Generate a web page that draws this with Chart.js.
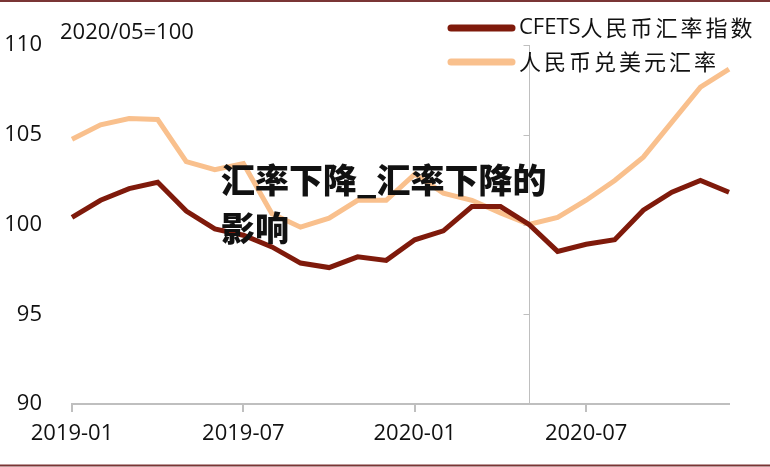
<!DOCTYPE html>
<html>
<head>
<meta charset="utf-8">
<script src="https://cdn.jsdelivr.net/npm/chart.js@4.4.0/dist/chart.umd.min.js"></script>
<style>
  html, body { margin: 0; padding: 0; background: #fff; }
  #wrap { width: 770px; height: 467px; position: relative; }
</style>
</head>
<body>
<div id="wrap"><canvas id="rate-chart"></canvas></div>
<script>
// Mesi
var months = ["2019-01","2019-02","2019-03","2019-04","2019-05","2019-06","2019-07","2019-08","2019-09","2019-10","2019-11","2019-12",
              "2020-01","2020-02","2020-03","2020-04","2020-05","2020-06","2020-07","2020-08","2020-09","2020-10","2020-11","2020-12"];

// Serie (2020/05=100)
var cfetsData = [100.4, 101.35, 102.0, 102.35, 100.75, 99.75, 99.4, 98.75, 97.85, 97.6, 98.2, 98.0,
                 99.15, 99.65, 101.0, 101.0, 100.0, 98.5, 98.9, 99.15, 100.8, 101.8, 102.45, 101.8];
var usdData   = [104.75, 105.55, 105.9, 105.85, 103.5, 103.05, 103.4, 100.6, 99.85, 100.35, 101.35, 101.35,
                 102.8, 101.75, 101.35, 100.65, 100.0, 100.4, 101.35, 102.45, 103.75, 105.7, 107.65, 108.65];

var seriesLabels = ["CFETS人民币汇率指数", "人民币兑美元汇率"];
var yTicks = [90, 95, 100, 105, 110];
var baseMonth = "2020-05";
var noteText = "2020/05=100";
var overlayLines = ["汇率下降_汇率下降的", "影响"];

var darkRed = '#7f1a0b';
var peach = '#f9c08d';
var axisGray = '#bfbfbf';
var latinFont = '"Open Sans", "Liberation Sans", sans-serif';
var cjkFont = '"Noto Sans CJK SC", sans-serif';

function $each(arr, fn){ for (var i = 0; i < arr.length; i++) { fn(arr[i], i); } }

// linea verticale al mese base + cornice + legenda + scritta
var extras = {
	id: 'extras',
	beforeDatasetsDraw: function(chart){
		var ctx = chart.ctx, xs = chart.scales.x, ys = chart.scales.y;
		var xb = Math.round(xs.getPixelForValue(months.indexOf(baseMonth))) + 0.5;
		ctx.save();
		ctx.strokeStyle = axisGray;
		ctx.lineWidth = 1;
		ctx.beginPath();
		ctx.moveTo(xb, ys.getPixelForValue(110));
		ctx.lineTo(xb, ys.getPixelForValue(90));
		$each(yTicks, function(v){
			var py = Math.round(ys.getPixelForValue(v)) + 0.5;
			ctx.moveTo(xb - 6, py);
			ctx.lineTo(xb, py);
		});
		ctx.stroke();
		ctx.restore();
	},
	afterDatasetsDraw: function(chart){
		var ctx = chart.ctx;
		ctx.save();
		ctx.fillStyle = '#111';
		ctx.font = '900 34px ' + cjkFont;
		ctx.textBaseline = 'middle';
		ctx.textAlign = 'left';
		ctx.fillText(overlayLines[0], 221, 180);
		ctx.fillText(overlayLines[1], 221, 228);
		ctx.restore();
	},
	afterDraw: function(chart){
		var ctx = chart.ctx;
		ctx.save();
		// cornice
		ctx.strokeStyle = '#7a3535';
		ctx.lineWidth = 2;
		ctx.beginPath();
		ctx.moveTo(0, 1); ctx.lineTo(770, 1);
		ctx.moveTo(0, 465.5); ctx.lineTo(770, 465.5);
		ctx.stroke();

		// nota
		ctx.fillStyle = '#111';
		ctx.font = '22px ' + latinFont;
		ctx.textBaseline = 'middle';
		ctx.fillText(noteText, 60, 33);

		// legenda
		var rowsY = [28, 62];
		chart.data.datasets.forEach(function(ds, i){
			var y = rowsY[i];
			ctx.strokeStyle = ds.borderColor;
			ctx.lineWidth = 7;
			ctx.lineCap = 'round';
			ctx.beginPath();
			ctx.moveTo(451, y); ctx.lineTo(512, y);
			ctx.stroke();
			var x = 519;
			var m = ds.label.match(/^[A-Za-z]*/)[0];
			if (m) {
				ctx.font = '22px ' + latinFont;
				ctx.fillText(m, x, y);
				x += ctx.measureText(m).width;
			}
			ctx.font = '22px ' + cjkFont;
			ds.label.slice(m.length).split('').forEach(function(c){
				ctx.fillText(c, x, y);
				x += 25;
			});
		});
		ctx.restore();
	}
};

var ctx = document.getElementById('rate-chart').getContext('2d');
var myChart = new Chart(ctx, {
	type: 'line',
	data: {
		labels: months,
		datasets: [{
			label: seriesLabels[0],
			data: cfetsData,
			borderColor: darkRed,
			backgroundColor: darkRed,
			borderWidth: 5,
			pointRadius: 0,
			tension: 0,
			fill: false
		},{
			label: seriesLabels[1],
			data: usdData,
			borderColor: peach,
			backgroundColor: peach,
			borderWidth: 5,
			pointRadius: 0,
			tension: 0,
			fill: false
		}]
	},
	options: {
		responsive: true,
		maintainAspectRatio: false,
		animation: false,
		layout: { padding: { top: 45, right: 41, left: 0, bottom: 0 } },
		plugins: {
			legend: { display: false },
			tooltip: { enabled: false }
		},
		scales: {
			x: {
				type: 'category',
				offset: false,
				afterBuildTicks: function(scale){
					scale.ticks = scale.ticks.filter(function(t){ return t.value % 6 === 0; });
				},
				afterFit: function(scale){ scale.height = 63; },
				ticks: {
					autoSkip: false,
					maxRotation: 0,
					padding: 9,
					color: '#111',
					font: { family: latinFont, size: 22 }
				},
				grid: {
					drawOnChartArea: false,
					drawTicks: true,
					tickLength: 8,
					color: axisGray,
					lineWidth: 2
				},
				border: { display: true, color: axisGray, width: 2 }
			},
			y: {
				min: 90,
				max: 110,
				afterBuildTicks: function(scale){
					scale.ticks = yTicks.map(function(v){ return { value: v }; });
				},
				afterFit: function(scale){ scale.width = 72; },
				ticks: {
					padding: 30,
					color: '#111',
					font: { family: latinFont, size: 22 }
				},
				grid: { display: false, drawTicks: false },
				border: { display: false }
			}
		}
	},
	plugins: [extras]
});
</script>
</body>
</html>
